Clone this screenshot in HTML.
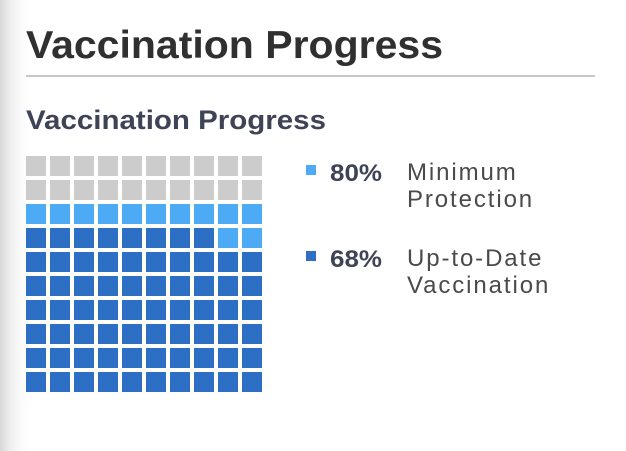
<!DOCTYPE html>
<html><head><meta charset="utf-8"><style>
html,body{margin:0;padding:0}
body{width:626px;height:446px;overflow:hidden;background:linear-gradient(90deg,#d8d8d8 0px,#eeeeee 10px,#fafafa 20px,#fff 30px);font-family:"Liberation Sans",sans-serif}
</style></head><body>
<svg id="chart" width="626" height="446" viewBox="0 0 626 446" xmlns="http://www.w3.org/2000/svg">
<text x="26" y="58" font-size="39" font-weight="bold" fill="#303030" textLength="417" lengthAdjust="spacingAndGlyphs">Vaccination Progress</text>
<line x1="26" y1="76" x2="595" y2="76" stroke="#c8c8c8" stroke-width="2"/>
<text x="26" y="129" font-size="27" font-weight="bold" fill="#3f4356" textLength="300" lengthAdjust="spacingAndGlyphs">Vaccination Progress</text>
<g id="cells"></g>
<g id="legend"></g>
</svg>
<script>
const seriesNames = [["Minimum","Protection"],["Up-to-Date","Vaccination"]];
const seriesValues = [80, 68];
const seriesColors = ["#4dabf5", "#2d6fc4"];
const emptyColor = "#cccccc";
const NS = "http://www.w3.org/2000/svg";
const gx = 26, gy = 156, pitch = 24, size = 20;
const cells = document.getElementById('cells');
for (let i = 0; i < 100; i++) {
  const row = 9 - Math.floor(i / 10), col = i % 10;
  let color = emptyColor;
  const idx = i + 1;
  if (idx <= seriesValues[1]) color = seriesColors[1];
  else if (idx <= seriesValues[0]) color = seriesColors[0];
  const r = document.createElementNS(NS, 'rect');
  r.setAttribute('x', gx + col * pitch);
  r.setAttribute('y', gy + row * pitch);
  r.setAttribute('width', size);
  r.setAttribute('height', size);
  r.setAttribute('fill', color);
  
  
  cells.appendChild(r);
}
const legend = document.getElementById('legend');
const legendY = [180, 266];
seriesValues.forEach((v, k) => {
  const y = legendY[k];
  const sq = document.createElementNS(NS, 'rect');
  sq.setAttribute('x', 306); sq.setAttribute('y', y - 15);
  sq.setAttribute('width', 10); sq.setAttribute('height', 10);
  sq.setAttribute('fill', seriesColors[k]);
  
  
  legend.appendChild(sq);
  const p = document.createElementNS(NS, 'text');
  p.setAttribute('x', 330); p.setAttribute('y', y + 1);
  p.setAttribute('font-size', '24'); p.setAttribute('font-weight', 'bold');
  p.setAttribute('fill', '#3f4356');
  p.setAttribute('textLength', '52');
  p.setAttribute('lengthAdjust', 'spacingAndGlyphs');
  p.textContent = v + '%';
  
  
  legend.appendChild(p);
  seriesNames[k].forEach((line, j) => {
    const t = document.createElementNS(NS, 'text');
    t.setAttribute('x', 407); t.setAttribute('y', y + j * 27);
    t.setAttribute('font-size', '24'); t.setAttribute('fill', '#4a4a4a');
    t.setAttribute('letter-spacing', '1.9');
    t.textContent = line;
    
    
    legend.appendChild(t);
  });
});
</script>
</body></html>
